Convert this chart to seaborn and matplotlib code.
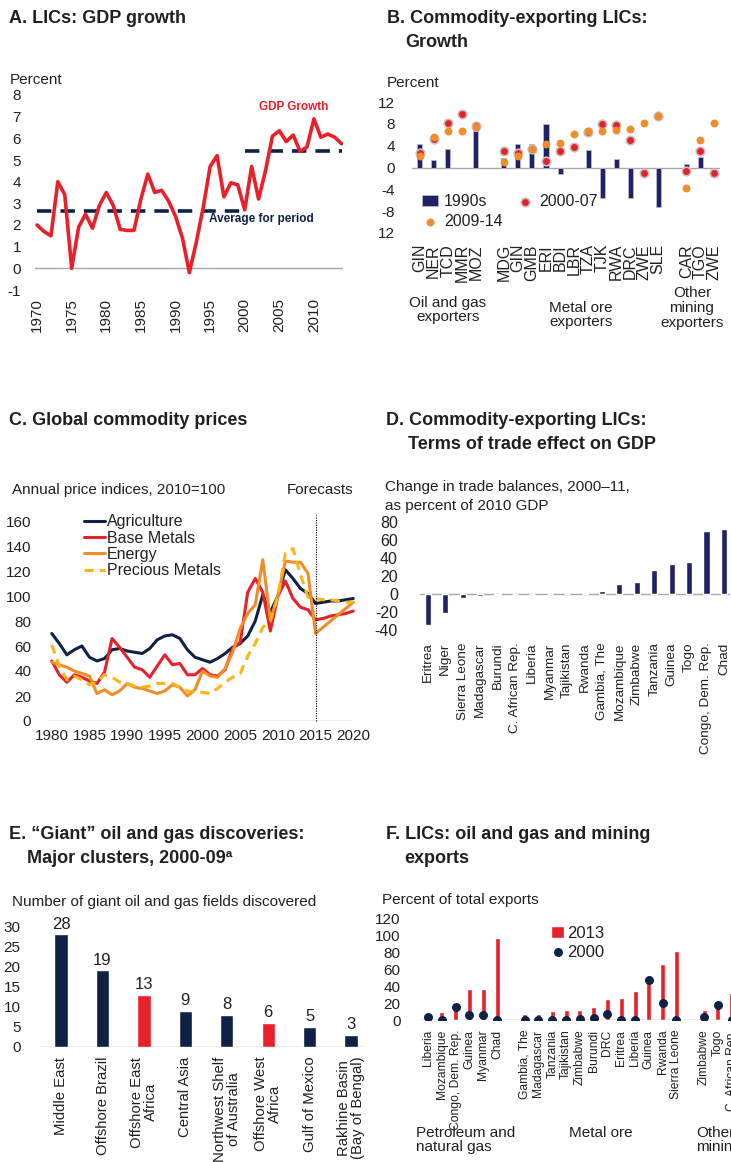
import numpy as np
import pandas as pd
import seaborn as sns
import matplotlib.pyplot as plt

# A. LICs GDP growth, 1970-2014
years_a = list(range(1970, 2015))
gdp_growth = [2.0, 1.7, 1.5, 4.0, 3.4, 0.0, 1.9, 2.5, 1.85, 2.9,
              3.5, 2.9, 1.8, 1.75, 1.75, 3.2, 4.35, 3.5, 3.6, 3.1,
              2.4, 1.4, -0.2, 1.2, 2.8, 4.7, 5.2, 3.3, 3.95, 3.85,
              2.7, 4.7, 3.2, 4.5, 6.1, 6.35, 5.85, 6.15, 5.4, 5.6,
              6.9, 6.05, 6.2, 6.05, 5.75]
period_start = [1970, 2000]
period_end = [2000, 2014]
period_avg = [2.65, 5.4]

# B. Commodity-exporting LICs growth
b_codes = ['GIN', 'NER', 'TCD', 'MMR', 'MOZ',
           'MDG', 'GIN', 'GMB', 'ERI', 'BDI', 'LBR', 'TZA', 'TJK', 'RWA', 'DRC', 'ZWE', 'SLE',
           'CAR', 'TGO', 'ZWE']
b_group = [0] * 5 + [1] * 12 + [2] * 3
b_1990s = [4.3, 1.3, 3.4, np.nan, 6.7,
           1.7, 4.3, 4.3, 8.0, -1.2, np.nan, 3.2, -5.6, 1.6, -5.5, np.nan, -7.3,
           0.6, 2.0, np.nan]
b_2000_07 = [2.7, 5.2, 8.2, 9.8, 7.6,
             3.0, 2.7, 3.4, 1.2, 3.0, 3.8, 6.5, 7.9, 7.8, 5.0, -1.0, 9.5,
             -0.7, 3.0, -1.0]
b_2009_14 = [2.1, 5.6, 6.6, 6.7, 7.4,
             1.0, 2.1, 3.3, 4.3, 4.5, 6.1, 6.6, 6.6, 6.9, 7.0, 8.2, 9.4,
             -3.8, 5.0, 8.2]
b_groups = ['Oil and gas\nexporters', 'Metal ore\nexporters', 'Other\nmining\nexporters']

# C. Global commodity prices, 2010=100
years_c = list(range(1980, 2021))
agriculture = [70, 62, 53, 57, 60, 51, 48, 50, 57, 58, 56, 55, 54, 58, 65, 68, 69, 66, 57, 51,
               49, 47, 50, 54, 59, 62, 68, 80, 101, 87, 100, 121, 114, 106, 102,
               94, 95, 96, 96, 97, 98]
base_metals = [48, 37, 31, 37, 35, 32, 30, 39, 66, 59, 51, 43, 41, 35, 44, 53, 45, 46, 37, 37,
               42, 37, 36, 41, 58, 63, 103, 114, 103, 72, 100, 112, 98, 91, 89,
               81, 82, 84, 85, 86, 88]
energy = [47, 45, 43, 40, 38, 36, 22, 25, 21, 24, 30, 27, 26, 24, 22, 24, 29, 27, 20, 25,
          40, 36, 35, 42, 55, 74, 86, 93, 129, 81, 100, 128, 127, 127, 118,
          70, 75, 80, 85, 90, 95]
precious_metals = [61, 44, 33, 36, 33, 29, 31, 37, 35, 31, 30, 28, 27, 28, 30, 30, 30, 27, 24, 23,
                   23, 22, 26, 31, 35, 38, 52, 62, 75, 80, 100, 134, 138, 117, 99,
                   98, 97, 97, 96, 95, 95]
forecast_year = 2015

# D. Terms of trade effect
d_countries = ['Eritrea', 'Niger', 'Sierra Leone', 'Madagascar', 'Burundi', 'C. African Rep.',
               'Liberia', 'Myanmar', 'Tajikistan', 'Rwanda', 'Gambia, The', 'Mozambique',
               'Zimbabwe', 'Tanzania', 'Guinea', 'Togo', 'Congo, Dem. Rep.', 'Chad']
d_change = [-34, -21, -4.8, -2.5, -1.5, 0, 0, 0, 0, 1.0, 3.3, 11.4, 12.8, 27, 33.8, 35.6, 70.5, 72.3]

# E. Giant oil and gas discoveries
e_regions = ['Middle East', 'Offshore Brazil', 'Offshore East\nAfrica', 'Central Asia',
             'Northwest Shelf\nof Australia', 'Offshore West\nAfrica', 'Gulf of Mexico',
             'Rakhine Basin\n(Bay of Bengal)']
e_fields = [28, 19, 13, 9, 8, 6, 5, 3]
e_africa = ['Offshore East\nAfrica', 'Offshore West\nAfrica']

# F. Oil and gas and mining exports
f_countries = ['Liberia', 'Mozambique', 'Congo, Dem. Rep.', 'Guinea', 'Myanmar', 'Chad',
               'Gambia, The', 'Madagascar', 'Tanzania', 'Tajikistan', 'Zimbabwe', 'Burundi',
               'DRC', 'Eritrea', 'Liberia', 'Guinea', 'Rwanda', 'Sierra Leone',
               'Zimbabwe', 'Togo', 'C. African Rep.']
f_group = [0] * 6 + [1] * 12 + [2] * 3
f_2013 = [0.5, 10, 16, 37, 37, 97,
          7, 7, 11, 12, 12, 15, 25, 26, 35, 48, 67, 82,
          12, 15, 32]
f_2000 = [3, 0, 16, 5.5, 5.5, 0,
          0, 0, 0, 0, 1, 2, 7.5, 0, 0, 47.5, 20.5, 0,
          3.5, 17.5, 0]
f_groups = ['Petroleum and\nnatural gas', 'Metal ore', 'Other\nmining']

NAVY = '#0E2245'
BLUE = '#1F2264'
RED = '#E8202A'
ORANGE = '#F28C28'
GOLD = '#FDB515'
GREY = '#A6A6A6'
INK = '#231F20'

sns.set_style('white')
plt.rcParams['font.family'] = ['Liberation Sans', 'DejaVu Sans']
plt.rcParams['font.size'] = 11
plt.rcParams['axes.unicode_minus'] = False
plt.rcParams['text.color'] = INK
plt.rcParams['xtick.color'] = INK
plt.rcParams['ytick.color'] = INK
TITLE = dict(fontsize=13, fontweight='bold')

W, H = 731, 1162
fig = plt.figure(figsize=(W / 100, H / 100), dpi=100)


def add_axes(left, top, right, bottom):
    ax = fig.add_axes([left / W, 1 - bottom / H, (right - left) / W, (bottom - top) / H])
    ax.set_facecolor('none')
    sns.despine(ax=ax, left=True, bottom=True)
    ax.tick_params(length=0)
    return ax


def ftext(x, y, s, **kw):
    fig.text(x / W, 1 - y / H, s, **kw)


def group_positions(groups):
    # one empty slot between groups
    return np.array([i + g for i, g in enumerate(groups)], dtype=float)


# ---------------- A ----------------
ftext(9, 23, 'A. LICs: GDP growth', **TITLE)
ftext(10, 80, 'Percent', fontsize=11, va='center')
ax = add_axes(35, 95, 343, 290)
ax.axhline(0, color=GREY, lw=1, zorder=1)
for s, e, a in zip(period_start, period_end, period_avg):
    sns.lineplot(x=[s, e], y=[a, a], ax=ax, color=NAVY, lw=2.6, linestyle=(0, (4, 2.5)), zorder=2)
sns.lineplot(x=years_a, y=gdp_growth, ax=ax, color=RED, lw=2.6, zorder=3)
ax.set_xlim(1969.7, 2014.2)
ax.set_ylim(-1, 8)
ax.set_yticks(range(-1, 9))
ax.set_xticks(range(1970, 2015, 5))
ax.tick_params(axis='x', labelrotation=90, labelsize=11, pad=6)
ax.tick_params(axis='y', labelsize=11, pad=10)
ax.text(2007.1, 7.43, 'GDP Growth', color=RED, fontsize=8.5, fontweight='bold', ha='center', va='center')
ax.text(2002.4, 2.26, 'Average for period', color=NAVY, fontsize=8.5, fontweight='bold', ha='center', va='center')

# ---------------- B ----------------
ftext(387, 23, 'B. Commodity-exporting LICs:', **TITLE)
ftext(405, 47, 'Growth', **TITLE)
ftext(387, 83, 'Percent', fontsize=11, va='center')
ax = add_axes(412, 102, 720, 233)
bpos = group_positions(b_group)
dfb = pd.DataFrame({'pos': bpos, 'v90': b_1990s, 'v00': b_2000_07, 'v09': b_2009_14})
ax.axhline(0, color=GREY, lw=1, zorder=1)
bars = dfb.dropna(subset=['v90'])
sns.barplot(data=bars, x='pos', y='v90', ax=ax, native_scale=True, width=0.36, color=BLUE,
            saturation=1, edgecolor='#B8B8D0', linewidth=0.6, errorbar=None, label='1990s', zorder=2)
sns.scatterplot(data=dfb, x='pos', y='v00', ax=ax, color=RED, s=38, edgecolor='#C8C0C0',
                linewidth=1.2, label='2000-07', zorder=3)
sns.scatterplot(data=dfb, x='pos', y='v09', ax=ax, color=ORANGE, s=32, linewidth=0,
                label='2009-14', zorder=4)
ax.set_xlim(-0.55, 21.4)
ax.set_ylim(-12, 12)
ax.set_yticks(range(-12, 13, 4))
ax.set_yticklabels(['12', '-8', '-4', '0', '4', '8', '12'])
ax.set_xticks(bpos)
ax.set_xticklabels(b_codes, rotation=90, fontsize=11.5)
ax.tick_params(axis='x', pad=8)
ax.tick_params(axis='y', labelsize=11, pad=12)
ax.set_xlabel('')
ax.set_ylabel('')
h, l = ax.get_legend_handles_labels()
order = [l.index('1990s'), l.index('2009-14'), l.index('2000-07')]
ax.legend([h[i] for i in order], [l[i] for i in order], ncol=2, loc='upper left',
          bbox_to_anchor=(0.0, 0.37), frameon=False, fontsize=11.5, handlelength=1.0,
          handletextpad=0.4, columnspacing=0.9, labelspacing=0.3, borderaxespad=0.2)
group_cx = [None, None, 19.4]
group_cy = [310, 315, 308]
for g, name in enumerate(b_groups):
    cx = group_cx[g] if group_cx[g] is not None else bpos[np.array(b_group) == g].mean()
    cy = (233 - group_cy[g]) / 131
    ax.text(cx, cy, name, transform=ax.get_xaxis_transform(), ha='center', va='center',
            fontsize=11, linespacing=1.05)

# ---------------- C ----------------
ftext(9, 425, 'C. Global commodity prices', **TITLE)
ftext(12, 490, 'Annual price indices, 2010=100', fontsize=11, va='center')
ftext(287, 490, 'Forecasts', fontsize=11, va='center')
ax = add_axes(48, 521, 357, 721)
ax.axhline(0, color=GREY, lw=1, xmin=0.0, xmax=0.985, zorder=1)
sns.lineplot(x=years_c, y=agriculture, ax=ax, color=NAVY, lw=2.2, label='Agriculture')
sns.lineplot(x=years_c, y=base_metals, ax=ax, color=RED, lw=2.2, label='Base Metals')
sns.lineplot(x=years_c, y=energy, ax=ax, color=ORANGE, lw=2.2, label='Energy')
sns.lineplot(x=years_c, y=precious_metals, ax=ax, color=GOLD, lw=2.2, linestyle=(0, (3, 2)),
             label='Precious Metals')
ax.axvline(forecast_year, ymin=0, ymax=1.03, color='black', lw=0.8, ls=(0, (1, 1.2)), clip_on=False)
ax.set_xlim(1979.5, 2020.5)
ax.set_ylim(0, 160)
ax.set_yticks(range(0, 161, 20))
ax.set_xticks(range(1980, 2021, 5))
ax.tick_params(axis='both', labelsize=11)
ax.tick_params(axis='y', pad=12)
ax.tick_params(axis='x', pad=6)
ax.legend(loc='upper left', bbox_to_anchor=(0.095, 1.065), frameon=False, fontsize=11.5,
          handlelength=1.3, handletextpad=0.15, labelspacing=0.08, borderaxespad=0)

# ---------------- D ----------------
ftext(386, 425, 'D. Commodity-exporting LICs:', **TITLE)
ftext(408, 449, 'Terms of trade effect on GDP', **TITLE)
ftext(385, 487, 'Change in trade balances, 2000\u201311,', fontsize=11, va='center')
ftext(385, 506, 'as percent of 2010 GDP', fontsize=11, va='center')
ax = add_axes(420, 522, 730, 630)
ax.axhline(0, color=GREY, lw=1, zorder=1)
sns.barplot(x=list(range(len(d_countries))), y=d_change, ax=ax, native_scale=True, width=0.35,
            color=BLUE, saturation=1, errorbar=None, zorder=2)
ax.set_xlim(-0.45, 17.35)
ax.set_ylim(-40, 80)
ax.set_yticks(range(-40, 81, 20))
ax.set_xticks(range(len(d_countries)))
ax.set_xticklabels(d_countries, rotation=90, fontsize=9.7)
ax.tick_params(axis='x', pad=9)
ax.tick_params(axis='y', labelsize=11.5, pad=16)

# ---------------- E ----------------
ftext(9, 839, 'E. \u201cGiant\u201d oil and gas discoveries:', **TITLE)
ftext(27, 863, 'Major clusters, 2000-09\u00aa', **TITLE)
ftext(12, 902, 'Number of giant oil and gas fields discovered', fontsize=11, va='center')
ax = add_axes(40, 926, 363, 1047)
ax.axhline(0, color=GREY, lw=1, zorder=1)
e_colors = [RED if r in e_africa else NAVY for r in e_regions]
sns.barplot(x=e_regions, y=e_fields, hue=e_regions, palette=e_colors, legend=False, ax=ax,
            width=0.32, saturation=1, errorbar=None, zorder=2)
for i, v in enumerate(e_fields):
    ax.text(i, v + 0.6, str(v), ha='center', va='bottom', fontsize=12)
ax.set_xlim(-0.51, 7.29)
ax.set_ylim(0, 30)
ax.set_yticks(range(0, 31, 5))
ax.set_xticks(range(len(e_regions)))
ax.set_xticklabels(e_regions, rotation=90, fontsize=10.7, linespacing=1.0)
ax.tick_params(axis='x', pad=7)
ax.tick_params(axis='y', labelsize=11, pad=14)
ax.set_xlabel('')
ax.set_ylabel('')

# ---------------- F ----------------
ftext(386, 839, 'F. LICs: oil and gas and mining', **TITLE)
ftext(404, 863, 'exports', **TITLE)
ftext(382, 900, 'Percent of total exports', fontsize=11, va='center')
ax = add_axes(420, 919, 780, 1020)
fpos = group_positions(f_group)
ax.axhline(0, color=GREY, lw=1, zorder=1)
sns.barplot(x=fpos, y=f_2013, ax=ax, native_scale=True, width=0.36, color=RED, saturation=1,
            errorbar=None, label='2013', zorder=2)
sns.scatterplot(x=fpos, y=f_2000, ax=ax, color=NAVY, s=42, linewidth=0, label='2000', zorder=3)
ax.set_xlim(-0.58, 25.5)
ax.set_ylim(0, 120)
ax.set_yticks(range(0, 121, 20))
ax.set_xticks(fpos)
ax.set_xticklabels(f_countries, rotation=90, fontsize=8.7)
ax.tick_params(axis='x', pad=7)
ax.tick_params(axis='y', labelsize=11, pad=14)
h, l = ax.get_legend_handles_labels()
order = [l.index('2013'), l.index('2000')]
ax.legend([h[i] for i in order], [l[i] for i in order], loc='upper left',
          bbox_to_anchor=(0.345, 1.0), frameon=False, fontsize=12,
          handlelength=0.8, handletextpad=0.2, labelspacing=0.25, borderaxespad=0)
group_x = [(-0.9, 'left'), (None, 'center'), (19.4, 'left')]
for g, name in enumerate(f_groups):
    gx, ha = group_x[g]
    if gx is None:
        gx = fpos[np.array(f_group) == g].mean()
    ax.text(gx, -1.05, name, transform=ax.get_xaxis_transform(), ha=ha, va='top',
            fontsize=11, linespacing=1.0)

fig.savefig('out.png', dpi=100)
